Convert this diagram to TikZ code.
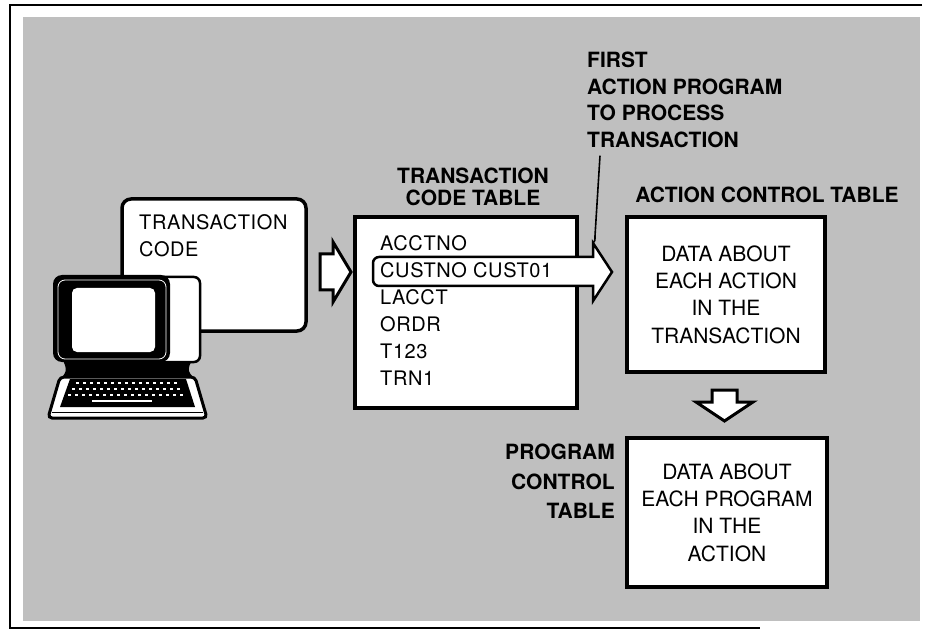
\documentclass[tikz,border=0pt]{standalone}
\usepackage{fontspec}
\setmainfont{TeX Gyre Heros}
\newfontfamily\widefont{TeX Gyre Heros}[LetterSpace=3]
\usetikzlibrary{calc}

\tikzset{
    textline/.style={inner sep=0pt, font=\widefont\fontsize{20}{27}\selectfont},
    heading/.style={inner sep=0pt, font=\bfseries\fontsize{21}{26.5}\selectfont},
    databox/.style={draw=black, line width=3.5pt, fill=white, align=center, inner sep=0pt, font=\fontsize{21}{27.3}\selectfont},
    callbox/.style={draw=black, line width=3.5pt, fill=white, rounded corners=9pt, inner sep=0pt},
    hollowarrow/.style={draw=black, line width=3pt, fill=white, line join=miter},
    leader/.style={black, line width=1.6pt},
}

\begin{document}
\begin{tikzpicture}[x=1pt, y=-1pt]
        \useasboundingbox (0, 0) rectangle (927, 639);
        \fill[white] (0, 0) rectangle (927, 639);
        \fill[black!25] (23, 17) rectangle (920, 621);
        \draw[black, line width=2.5pt] (922, 5) -- (10, 5) -- (10, 628) -- (760, 628);

        \node[callbox, minimum width=184, minimum height=132] (callout) at (214, 265) {};
        \node[textline, anchor=north west, align=left] (code) at (139, 214) {TRANSACTION\\CODE};

        \fill[black] (58, 350) .. controls (68, 370) .. (60, 380) -- (196, 380) .. controls (186, 370) .. (198, 350) -- cycle;
        \draw[black, line width=2.5pt, fill=white, rounded corners=6pt] (150, 277) rectangle (200, 362);
        \fill[black, rounded corners=9pt] (53, 275) rectangle (170, 362);
        \draw[white, line width=0.8pt, rounded corners=7pt] (58, 280) rectangle (166, 359);
        \fill[white, rounded corners=5pt] (72, 288) rectangle (155, 352);
        \draw[black, line width=3pt, fill=white, rounded corners=4pt] (60, 377) -- (195, 377) -- (207, 418) -- (48, 418) -- cycle;
        \fill[black] (70, 379) -- (186, 379) -- (195, 407) -- (60, 407) -- cycle;
        \draw[black, line width=1pt] (52, 412) -- (203, 412);
        \draw[white, line width=1.2pt, dash pattern=on 3pt off 4pt] (76, 383) -- (178, 383);
        \draw[white, line width=1.2pt, dash pattern=on 3pt off 4pt] (72, 389) -- (182, 389);
        \draw[white, line width=1.2pt, dash pattern=on 3pt off 4pt] (68, 395) -- (186, 395);
        \draw[white, line width=1.5pt] (92, 401) -- (152, 401);

        \draw[hollowarrow] (320, 254) -- (333, 254) -- (333, 242) -- (351, 272) -- (333, 302) -- (333, 290) -- (320, 290) -- cycle;

        \node[databox, minimum width=222, minimum height=191] (codetab) at (466, 312.5) {};
        \node[heading, anchor=north, align=center, font=\bfseries\fontsize{21}{22}\selectfont] (codetitle) at (473, 168) {TRANSACTION\\CODE TABLE};
        \draw[hollowarrow, line width=2.5pt] (480, 257) [rounded corners=6pt] -- (373, 257) -- (373, 286) [sharp corners] -- (593, 286) -- (593, 301) -- (612, 272) -- (593, 243) -- (593, 257) -- cycle;
        \node[textline, anchor=north west, align=left] (entries) at (380, 235.6) {ACCTNO\\CUSTNO CUST01\\LACCT\\ORDR\\T123\\TRN1};

        \node[heading, anchor=north west, align=left] (first) at (587, 52) {FIRST\\ACTION PROGRAM\\TO PROCESS\\TRANSACTION};
        \coordinate (headtop) at (593, 243);
        \draw[leader] ($(first.south west) + (13, 8)$) -- (595, 236) .. controls (595, 241) .. (headtop);

        \node[heading, anchor=base] (acttitle) at (767, 203) {ACTION CONTROL TABLE};
        \node[databox, minimum width=198, minimum height=155] (actbox) at (726, 294.5) {DATA ABOUT\\EACH ACTION\\IN THE\\TRANSACTION};
        \draw[hollowarrow] (712, 390) -- (737, 390) -- (737, 402) -- (753, 402) -- (724.5, 421) -- (696, 402) -- (712, 402) -- cycle;
        \node[databox, minimum width=200, minimum height=149] (progbox) at (727, 512.5) {DATA ABOUT\\EACH PROGRAM\\IN THE\\ACTION};
        \node[heading, anchor=north east, align=right, font=\bfseries\fontsize{21}{29.5}\selectfont] (progtitle) at (615, 444) {PROGRAM\\CONTROL\\TABLE};
\end{tikzpicture}
\end{document}
